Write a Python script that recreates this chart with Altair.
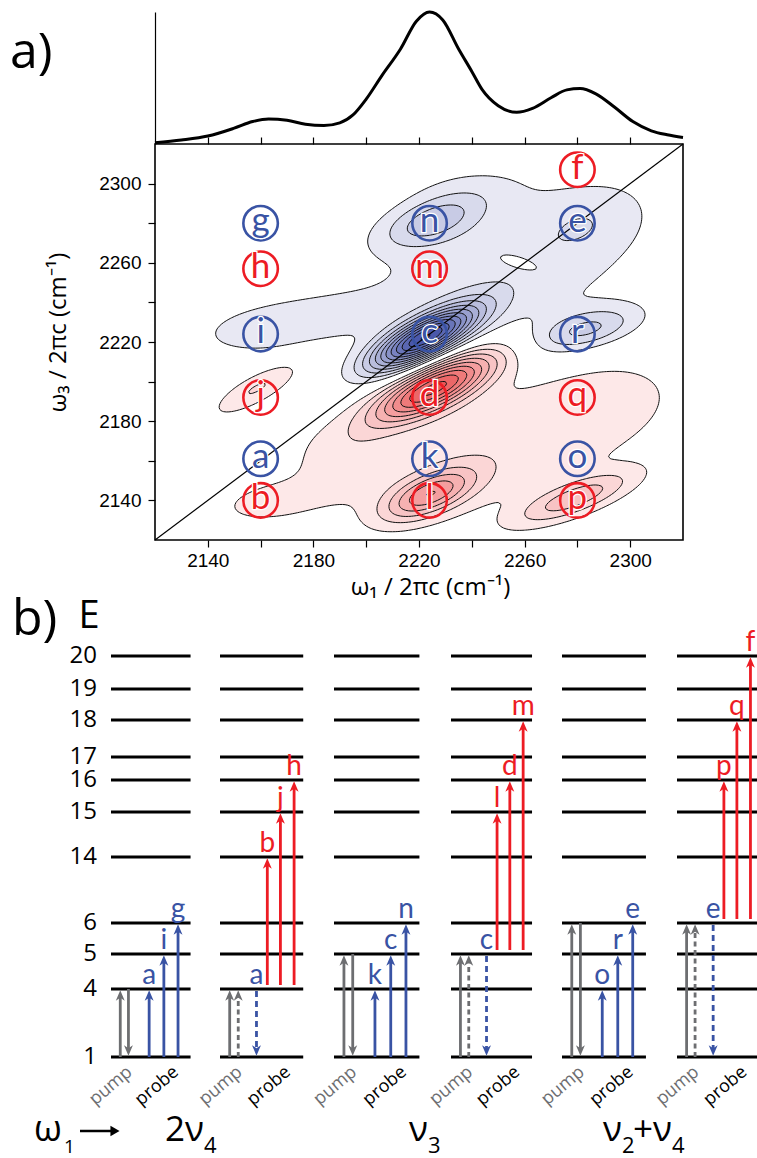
import numpy as np
import pandas as pd
import altair as alt

alt.data_transformers.disable_max_rows()

# ====================== DATA ======================
# 1D absorption spectrum above the 2D map (omega_1 axis, relative absorbance)
SPEC_W1 = [2120, 2130, 2140, 2150, 2157, 2163, 2170, 2177, 2184, 2190, 2195, 2200, 2206, 2213, 2219, 2224,
           2229, 2235, 2240, 2244, 2250, 2257, 2263, 2270, 2276, 2281, 2287, 2294, 2301, 2308, 2314, 2320]
SPEC_ABS = [0.01, 0.03, 0.06, 0.12, 0.17, 0.19, 0.18, 0.15, 0.14, 0.16, 0.22, 0.34, 0.52, 0.72, 0.93, 1.00,
            0.94, 0.72, 0.55, 0.41, 0.29, 0.24, 0.27, 0.35, 0.41, 0.42, 0.38, 0.28, 0.17, 0.10, 0.07, 0.05]

# 2D spectrum: tilted 2D Gaussian features (negative = blue, positive = red)
#            c      n      r      e      i      conn   broadB hole   top    d      l      p      j      b      broadR q      br2
PEAK_W1 = [2222, 2225, 2283, 2285, 2162, 2192, 2250, 2258, 2240, 2226, 2224, 2279, 2159, 2163, 2250, 2290, 2190]
PEAK_W3 = [2222, 2281, 2226, 2282, 2227, 2234, 2256, 2260, 2298, 2197, 2143, 2141, 2197, 2139, 2168, 2190, 2160]
PEAK_AMP = [-1.15, -0.30, -0.30, -0.12, -0.14, -0.05, -0.16, 0.11, -0.07, 0.90, 0.50, 0.32, 0.21, 0.13, 0.16, 0.10, 0.10]
PEAK_S1 = [14, 13, 14, 16, 22, 18, 38, 7, 18, 16, 12, 15, 12, 15, 42, 18, 14]
PEAK_S3 = [11, 9, 8, 14, 11, 10, 28, 4, 9, 12, 9, 9, 10, 8, 28, 14, 14]
PEAK_RHO = [0.75, 0.5, 0.5, 0.3, 0.3, 0.3, 0.2, -0.6, 0.2, 0.75, 0.6, 0.75, 0.8, 0.3, 0.35, 0.3, 0.0]

# circled peak labels on the 2D map
CIRC_LETTER = ["f", "g", "n", "e", "h", "m", "i", "c", "r", "j", "d", "q", "a", "k", "o", "b", "l", "p"]
CIRC_W1 = [2280, 2160, 2224, 2280, 2160, 2224, 2160, 2224, 2280, 2160, 2224, 2280, 2160, 2224, 2280, 2160, 2224, 2280]
CIRC_W3 = [2307, 2280, 2280, 2280, 2257, 2257, 2224, 2224, 2224, 2192, 2192, 2192, 2161, 2161, 2161, 2140, 2140, 2140]
CIRC_SIGN = ["pos", "neg", "neg", "neg", "pos", "pos", "neg", "neg", "neg", "pos", "pos", "pos",
             "neg", "neg", "neg", "pos", "pos", "pos"]

# energy-level diagram
LEVELS = [1, 4, 5, 6, 14, 15, 16, 17, 18, 19, 20]
N_GROUPS = 6
ARROW_GROUP = [0, 0, 0, 0, 0,
               1, 1, 1, 1, 1, 1,
               2, 2, 2, 2, 2,
               3, 3, 3, 3, 3, 3,
               4, 4, 4, 4, 4,
               5, 5, 5, 5, 5, 5]
ARROW_SLOT = ["p1", "p2", "s1", "s2", "s3",
              "p1", "p2", "d", "r1", "r2", "r3",
              "p1", "p2", "s1", "s2", "s3",
              "p1", "p2", "d", "r1", "r2", "r3",
              "p1", "p2", "s1", "s2", "s3",
              "p1", "p2", "d", "r1", "r2", "r3"]
ARROW_FROM = [1, 4, 1, 1, 1,
              1, 1, 4, 4, 4, 4,
              1, 5, 1, 1, 1,
              1, 1, 5, 5, 5, 5,
              1, 6, 1, 1, 1,
              1, 1, 6, 6, 6, 6]
ARROW_TO = [4, 1, 4, 5, 6,
            4, 4, 1, 14, 15, 16,
            5, 1, 4, 5, 6,
            5, 5, 1, 15, 16, 18,
            6, 1, 4, 5, 6,
            6, 6, 1, 16, 18, 20]
ARROW_KIND = ["pump", "pump", "probe", "probe", "probe",
              "pump", "pumpdash", "probedash", "red", "red", "red",
              "pump", "pump", "probe", "probe", "probe",
              "pump", "pumpdash", "probedash", "red", "red", "red",
              "pump", "pump", "probe", "probe", "probe",
              "pump", "pumpdash", "probedash", "red", "red", "red"]
ARROW_LABEL = ["", "", "a", "i", "g",
               "", "", "a", "b", "j", "h",
               "", "", "k", "c", "n",
               "", "", "c", "l", "d", "m",
               "", "", "o", "r", "e",
               "", "", "e", "p", "q", "f"]

# ====================== LAYOUT / STYLE ======================
W, H = 757, 1158
BLUE, RED, GRAY = "#3953a4", "#ed1c24", "#6d6e71"
LETTER_FONT = "Lato"
TEXT_FONT = "Open Sans"
TICK_FONT = "Liberation Sans"

MAP_XR = [155, 683]
MAP_YR = [540, 144]
SPEC_YR = [144, 12]
LEVEL_PX = [1057, 989, 954, 923, 857, 812, 780, 757, 720, 689, 656]
GROUP_PX = [111, 220, 334, 451, 562, 677, 790]
LINE_LEN = 0.73
SLOT_OFF = {"p1": 0.085, "p2": 0.16, "s1": 0.35, "s2": 0.485, "s3": 0.615,
            "d": 0.32, "r1": 0.415, "r2": 0.53, "r3": 0.65}
STEP = 0.1
BLUE_LO, BLUE_HI, NB = "#e8e8f3", "#3a4aa4", 12
RED_LO, RED_HI, NR = "#fde8e8", "#ea5556", 9
SIGN_HEX = {"neg": BLUE, "pos": RED}


def mix(c0, c1, t):
    a = [int(c0[k:k + 2], 16) for k in (1, 3, 5)]
    b = [int(c1[k:k + 2], 16) for k in (1, 3, 5)]
    t = min(max(t, 0.0), 1.0)
    return "#%02x%02x%02x" % tuple(int(round(a[m] + (b[m] - a[m]) * t)) for m in range(3))


# ====================== 2D field + contours ======================
gx = np.arange(2120.0, 2320.5, 1.0)
gy = np.arange(2120.0, 2320.5, 1.0)
XX, YY = np.meshgrid(gx, gy)
FIELD = np.zeros_like(XX)
for x0, y0, a, s1, s3, r in zip(PEAK_W1, PEAK_W3, PEAK_AMP, PEAK_S1, PEAK_S3, PEAK_RHO):
    u = (XX - x0) / s1
    v = (YY - y0) / s3
    FIELD += a * np.exp(-0.5 * (u * u - 2 * r * u * v + v * v) / (1 - r * r))

CORNER = [(0, 0), (1, 0), (1, 1), (0, 1)]
EMID = [(0.5, 0.0), (1.0, 0.5), (0.5, 1.0), (0.0, 0.5)]


def contour_loops(G, xs, ys):
    ny, nx = G.shape
    P = np.full((ny + 2, nx + 2), -1.0)
    P[1:-1, 1:-1] = G
    xp = np.concatenate([[xs[0]], xs, [xs[-1]]])
    yp = np.concatenate([[ys[0]], ys, [ys[-1]]])
    ins = P >= 0
    code = (ins[:-1, :-1] * 1 + ins[:-1, 1:] * 2 + ins[1:, 1:] * 4 + ins[1:, :-1] * 8)
    nxt = {}
    for i, j in np.argwhere((code > 0) & (code < 15)):
        c = int(code[i, j])
        vin = [(c >> b) & 1 for b in range(4)]
        keys = [("h", i, j), ("v", i, j + 1), ("h", i + 1, j), ("v", i, j)]
        segs = []
        if c in (5, 10):
            cen = (P[i, j] + P[i, j + 1] + P[i + 1, j + 1] + P[i + 1, j]) / 4.0 >= 0
            if (c == 5) == cen:
                pairs = [((0, 1), 1), ((2, 3), 3)]
            else:
                pairs = [((3, 0), 0), ((1, 2), 2)]
            for (ea, eb), k in pairs:
                q = CORNER[k] if vin[k] else CORNER[(k + 2) % 4]
                segs.append((ea, eb, q))
        else:
            crossed = [e for e in range(4) if vin[e] != vin[(e + 1) % 4]]
            inc = [CORNER[k] for k in range(4) if vin[k]]
            q = (sum(p[0] for p in inc) / len(inc), sum(p[1] for p in inc) / len(inc))
            segs.append((crossed[0], crossed[1], q))
        for ea, eb, q in segs:
            ma, mb = EMID[ea], EMID[eb]
            dx, dy = mb[0] - ma[0], mb[1] - ma[1]
            cr = dx * (q[1] - ma[1]) - dy * (q[0] - ma[0])
            if cr < 0:
                ea, eb = eb, ea
            nxt[keys[ea]] = keys[eb]

    def kxy(key):
        t, i, j = key
        if t == "h":
            a, b = P[i, j], P[i, j + 1]
            s = a / (a - b)
            return xp[j] + s * (xp[j + 1] - xp[j]), yp[i]
        a, b = P[i, j], P[i + 1, j]
        s = a / (a - b)
        return xp[j], yp[i] + s * (yp[i + 1] - yp[i])

    loops = []
    seen = set()
    for start in list(nxt.keys()):
        if start in seen:
            continue
        chain = [start]
        seen.add(start)
        k = nxt[start]
        guard = 0
        while k != start and guard < 200000:
            chain.append(k)
            seen.add(k)
            k = nxt.get(k, start)
            guard += 1
        pts = [kxy(k) for k in chain]
        xs_ = np.array([p[0] for p in pts])
        ys_ = np.array([p[1] for p in pts])
        area = 0.5 * np.sum(xs_ * np.roll(ys_, -1) - np.roll(xs_, -1) * ys_)
        loops.append((pts, area >= 0))
    return loops


fill_layers_spec = []  # (color, rows)
line_rows = []
loop_id = 0
for sign, lo, hi, nmax in ((1, RED_LO, RED_HI, NR), (-1, BLUE_LO, BLUE_HI, NB)):
    m = (sign * FIELD).max()
    nlev = int(np.floor(m / STEP))
    for lv in range(1, nlev + 1):
        col = mix(lo, hi, (lv - 1) / (nmax - 1))
        prev = "#ffffff" if lv == 1 else mix(lo, hi, (lv - 2) / (nmax - 1))
        loops = contour_loops(sign * FIELD - lv * STEP, gx, gy)
        outer_rows, hole_rows = [], []
        for pts, is_outer in loops:
            pts = pts + [pts[0]]
            rows = [(loop_id, n, p[0], p[1]) for n, p in enumerate(pts)]
            (outer_rows if is_outer else hole_rows).extend(rows)
            line_rows.extend(rows)
            loop_id += 1
        if outer_rows:
            fill_layers_spec.append((col, outer_rows))
        if hole_rows:
            fill_layers_spec.append((prev, hole_rows))

XS = alt.Scale(domain=[2120, 2320], range=MAP_XR, nice=False, zero=False)
YS = alt.Scale(domain=[2120, 2320], range=MAP_YR, nice=False, zero=False)
TICKS = list(range(2140, 2301, 20))
LBL = "datum.value % 40 == 20 ? datum.label : ''"
X_AXIS = alt.Axis(orient="bottom", offset=-(H - MAP_YR[0]), values=TICKS, format="d", labelExpr=LBL,
                  tickSize=7, tickColor="black", tickWidth=1.2, domain=False, grid=False,
                  labelFont=TICK_FONT, labelFontSize=19, labelColor="black", labelPadding=4,
                  labelOverlap=False, title="ω₁ / 2πc (cm⁻¹)", titleFont=TEXT_FONT, titleFontSize=24,
                  titleFontWeight="normal", titleColor="black", titlePadding=5, titleX=430)
Y_AXIS = alt.Axis(orient="left", offset=-MAP_XR[0], values=TICKS, format="d", labelExpr=LBL,
                  tickSize=7, tickColor="black", tickWidth=1.2, domain=False, grid=False,
                  labelFont=TICK_FONT, labelFontSize=19, labelColor="black", labelPadding=7,
                  labelOverlap=False, title="ω₃ / 2πc (cm⁻¹)", titleFont=TEXT_FONT, titleFontSize=24,
                  titleFontWeight="normal", titleColor="black", titlePadding=28, titleY=332)


def xenc(field="x"):
    return alt.X(field + ":Q", scale=XS, axis=X_AXIS)


def yenc(field="y"):
    return alt.Y(field + ":Q", scale=YS, axis=Y_AXIS)


map_layers = []
for col, rows in fill_layers_spec:
    df = pd.DataFrame(rows, columns=["loop", "k", "x", "y"])
    map_layers.append(
        alt.Chart(df).mark_line(fill=col, strokeWidth=0, strokeOpacity=0).encode(
            x=xenc(), y=yenc(), detail="loop:N", order="k:Q"))

lines_df = pd.DataFrame(line_rows, columns=["loop", "k", "x", "y"])
map_layers.append(
    alt.Chart(lines_df).mark_line(color="#111111", strokeWidth=1.0).encode(
        x=xenc(), y=yenc(), detail="loop:N", order="k:Q"))

diag_df = pd.DataFrame({"x": [2120], "y": [2120], "x2": [2320], "y2": [2320]})
map_layers.append(
    alt.Chart(diag_df).mark_rule(color="black", strokeWidth=1.2).encode(
        x=xenc(), y=yenc(), x2="x2:Q", y2="y2:Q"))
map_layers.append(
    alt.Chart(diag_df).mark_rect(fillOpacity=0, stroke="black", strokeWidth=1.6).encode(
        x=xenc(), y=yenc(), x2="x2:Q", y2="y2:Q"))

circ_df = pd.DataFrame({"t": CIRC_LETTER, "x": CIRC_W1, "y": CIRC_W3, "s": CIRC_SIGN})
circ_df["hex"] = circ_df["s"].map(SIGN_HEX)
map_layers.append(
    alt.Chart(circ_df).mark_point(shape="circle", filled=False, size=1190, strokeWidth=2.6, opacity=1).encode(
        x=xenc(), y=yenc(), color=alt.Color("hex:N", scale=None)))
map_layers.append(
    alt.Chart(circ_df).mark_text(font=LETTER_FONT, fontSize=35, baseline="alphabetic", dy=9,
                                 stroke="white", strokeWidth=2.5, fill="white").encode(
        x=xenc(), y=yenc(), text="t:N"))
map_layers.append(
    alt.Chart(circ_df).mark_text(font=LETTER_FONT, fontSize=35, baseline="alphabetic", dy=9).encode(
        x=xenc(), y=yenc(), text="t:N", color=alt.Color("hex:N", scale=None)))

map_chart = alt.layer(*map_layers)

# ====================== 1D spectrum ======================
spec_df = pd.DataFrame({"w1": SPEC_W1, "a": SPEC_ABS})
spec_chart = alt.Chart(spec_df).mark_line(color="black", strokeWidth=3, interpolate="monotone").encode(
    x=alt.X("w1:Q", scale=alt.Scale(domain=[2120, 2320], range=MAP_XR, nice=False, zero=False),
            axis=alt.Axis(orient="top", offset=-MAP_YR[1], values=TICKS, labels=False, tickSize=7,
                          tickColor="black", tickWidth=1.2, domain=False, grid=False, title=None)),
    y=alt.Y("a:Q", scale=alt.Scale(domain=[0, 1], range=SPEC_YR, nice=False, zero=False),
            axis=alt.Axis(orient="left", offset=-MAP_XR[0], labels=False, ticks=False, grid=False,
                          domain=True, domainColor="black", domainWidth=1.2, title=None)),
)

# ====================== energy diagram ======================
XD = alt.Scale(domain=list(range(N_GROUPS + 1)), range=GROUP_PX, nice=False, zero=False)
YD = alt.Scale(domain=LEVELS, range=LEVEL_PX, nice=False, zero=False)

diag_layers = []
lv_df = pd.DataFrame([(g, L) for g in range(N_GROUPS) for L in LEVELS], columns=["g", "L"])
diag_layers.append(
    alt.Chart(lv_df).transform_calculate(g2=f"datum.g + {LINE_LEN}").mark_rule(
        color="black", strokeWidth=3).encode(
        x=alt.X("g:Q", scale=XD, axis=None), x2="g2:Q", y=alt.Y("L:Q", scale=YD, axis=None)))

arr = pd.DataFrame({"g": ARROW_GROUP, "slot": ARROW_SLOT, "f": ARROW_FROM, "t": ARROW_TO,
                    "kind": ARROW_KIND, "lab": ARROW_LABEL})
arr["xp"] = arr["g"] + arr["slot"].map(SLOT_OFF)
arr["up"] = arr["t"] > arr["f"]
arr["top"] = arr[["f", "t"]].max(axis=1)

HEAD = "M0,-1L0.85,1L0,0.45L-0.85,1Z"
KIND_STYLE = {"pump": (GRAY, None, 0), "pumpdash": (GRAY, [5, 3.5], 0), "probe": (BLUE, None, 0),
              "probedash": (BLUE, [6, 4], 2), "red": (RED, None, -4)}
for kind, (col, dash, y0off) in KIND_STYLE.items():
    for up in (True, False):
        sub = arr[(arr["kind"] == kind) & (arr["up"] == up)]
        if len(sub) == 0:
            continue
        rule_kw = dict(color=col, strokeWidth=2.8, yOffset=y0off, y2Offset=(8 if up else -8))
        if dash:
            rule_kw["strokeDash"] = dash
        diag_layers.append(
            alt.Chart(sub).mark_rule(**rule_kw).encode(
                x=alt.X("xp:Q", scale=XD, axis=None), y=alt.Y("f:Q", scale=YD, axis=None), y2="t:Q"))
        diag_layers.append(
            alt.Chart(sub).mark_point(shape=HEAD, filled=True, size=110, color=col, opacity=1,
                                      angle=(0 if up else 180), yOffset=(6.5 if up else -6.5),
                                      strokeWidth=0).encode(
                x=alt.X("xp:Q", scale=XD, axis=None), y=alt.Y("t:Q", scale=YD, axis=None)))

lab_df = arr[arr["lab"] != ""].copy()
lab_df["hex"] = np.where(lab_df["kind"] == "red", RED, BLUE)
diag_layers.append(
    alt.Chart(lab_df).mark_text(font=LETTER_FONT, fontSize=28, baseline="alphabetic", align="center",
                                yOffset=-5).encode(
        x=alt.X("xp:Q", scale=XD, axis=None), y=alt.Y("top:Q", scale=YD, axis=None), text="lab:N",
        color=alt.Color("hex:N", scale=None)))

pp_rows = []
for g in range(N_GROUPS):
    pp_rows.append((g + 0.175, LEVELS[0], "pump", GRAY))
    pp_rows.append((g + 0.60, LEVELS[0], "probe", "#000000"))
pp_df = pd.DataFrame(pp_rows, columns=["x", "L", "w", "hex"])
diag_layers.append(
    alt.Chart(pp_df).mark_text(font=TEXT_FONT, fontSize=18, angle=320, align="right", baseline="middle",
                               yOffset=13).encode(
        x=alt.X("x:Q", scale=XD, axis=None), y=alt.Y("L:Q", scale=YD, axis=None), text="w:N",
        color=alt.Color("hex:N", scale=None)))

num_df = pd.DataFrame({"L": LEVELS, "t": [str(v) for v in LEVELS]})
diag_layers.append(
    alt.Chart(num_df).mark_text(font=TEXT_FONT, fontSize=24, align="right", baseline="middle", color="black").encode(
        x=alt.value(97), y=alt.Y("L:Q", scale=YD, axis=None), text="t:N"))


def label(text, x, y, size, font=TEXT_FONT, color="black", align="left", baseline="alphabetic"):
    return alt.Chart(pd.DataFrame({"t": [text]})).mark_text(
        font=font, fontSize=size, color=color, align=align, baseline=baseline).encode(
        x=alt.value(x), y=alt.value(y), text="t:N")


annots = [
    label("a)", 10, 68, 50),
    label("b)", 12, 635, 50),
    label("E", 89, 628, 38, align="center"),
    label("ω", 34, 1141, 36),
    label("1", 64, 1153, 19),
    label("2ν", 204, 1141, 35, align="right"),
    label("4", 204, 1153, 22),
    label("ν", 428, 1141, 35, align="right"),
    label("3", 428, 1153, 22),
    label("ν", 622, 1141, 35, align="right"),
    label("2", 622, 1153, 22),
    label("+ν", 672, 1141, 35, align="right"),
    label("4", 672, 1153, 22),
]
arrow_rule = alt.Chart(pd.DataFrame({"k": [0]})).mark_rule(color="black", strokeWidth=2.5).encode(
    x=alt.value(80), x2=alt.value(112), y=alt.value(1131))
arrow_head = alt.Chart(pd.DataFrame({"k": [0]})).mark_point(
    shape="triangle-right", filled=True, size=110, color="black", opacity=1).encode(
    x=alt.value(115), y=alt.value(1131))

diag_chart = alt.layer(*diag_layers, *annots, arrow_rule, arrow_head)

chart = alt.layer(spec_chart, map_chart, diag_chart).resolve_scale(
    x="independent", y="independent"
).properties(
    width=W, height=H, padding=0, autosize=alt.AutoSizeParams(type="none"), background="white"
).configure_view(stroke=None)

chart.save("out.html", embed_options={"renderer": "svg", "actions": False})
